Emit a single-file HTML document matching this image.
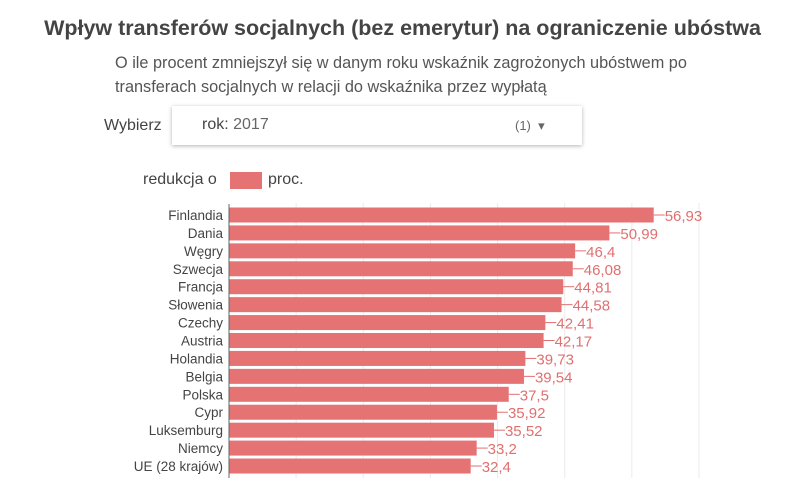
<!DOCTYPE html>
<html><head><meta charset="utf-8"><style>
body{margin:0;width:805px;height:478px;background:#fff;font-family:"Liberation Sans",sans-serif;overflow:hidden;position:relative}
.a{position:absolute;white-space:nowrap}
</style></head><body>
<div class="a" style="left:0;width:805px;text-align:center;top:16px;font-size:21.5px;font-weight:bold;color:#444">Wpływ transferów socjalnych (bez emerytur) na ograniczenie ubóstwa</div>
<div class="a" style="left:115px;top:51px;font-size:16.3px;color:#555;line-height:24px">O ile procent zmniejszył się w danym roku wskaźnik zagrożonych ubóstwem po<br>transferach socjalnych w relacji do wskaźnika przez wypłatą</div>
<div class="a" style="left:104px;top:117px;font-size:16px;color:#444">Wybierz</div>
<div class="a" style="left:172px;top:106px;width:410px;height:39px;box-shadow:0 1px 4px rgba(0,0,0,.3);background:#fff">
<span class="a" style="left:30px;top:10px;font-size:16px;color:#444">rok: <span style="color:#666">2017</span></span>
<span class="a" style="left:343px;top:12px;font-size:13px;color:#666">(1) &nbsp;▾</span></div>
<div class="a" style="left:143px;top:171px;font-size:16px;color:#444">redukcja o</div>
<div class="a" style="left:230px;top:172px;width:32px;height:17px;background:#e57373"></div>
<div class="a" style="left:268px;top:171px;font-size:16px;color:#444">proc.</div>
<svg class="a" style="left:0;top:0" width="805" height="478" id="chart"></svg>
<script>
const categories=["Finlandia","Dania","Węgry","Szwecja","Francja","Słowenia","Czechy","Austria","Holandia","Belgia","Polska","Cypr","Luksemburg","Niemcy","UE (28 krajów)"];
const values=[56.93,50.99,46.4,46.08,44.81,44.58,42.41,42.17,39.73,39.54,37.5,35.92,35.52,33.2,32.4];
const valueLabels=["56,93","50,99","46,4","46,08","44,81","44,58","42,41","42,17","39,73","39,54","37,5","35,92","35,52","33,2","32,4"];
const gridTicks=[9,18,27,36,45,54,63];
const svg=document.getElementById('chart'),NS='http://www.w3.org/2000/svg';
const x=v=>229+v*7.46, y=i=>207.5+i*17.93, bh=15;
function mk(t,a){const e=document.createElementNS(NS,t);for(const k in a)e.setAttribute(k,a[k]);svg.appendChild(e);return e;}
gridTicks.forEach(t=>{const g=mk('line',{x1:x(t),x2:x(t),y1:203,y2:478,stroke:'#ebebeb'});

});
categories.forEach((c,i)=>{
const r=mk('rect',{x:x(0),y:y(i),width:x(values[i])-x(0),height:bh,fill:'#e57373'});


const l=mk('text',{x:223,y:y(i)+12.5,'text-anchor':'end','font-size':13.5,fill:'#444'});l.textContent=c;


const ln=mk('line',{x1:x(values[i]),x2:x(values[i])+11,y1:y(i)+7.5,y2:y(i)+7.5,stroke:'#e07070'});


const v=mk('text',{x:x(values[i])+11,y:y(i)+13.5,'font-size':15,fill:'#e07070'});v.textContent=valueLabels[i];


});
const ax=mk('line',{x1:x(0),x2:x(0),y1:204,y2:478,stroke:'#666'});


</script>
</body></html>
